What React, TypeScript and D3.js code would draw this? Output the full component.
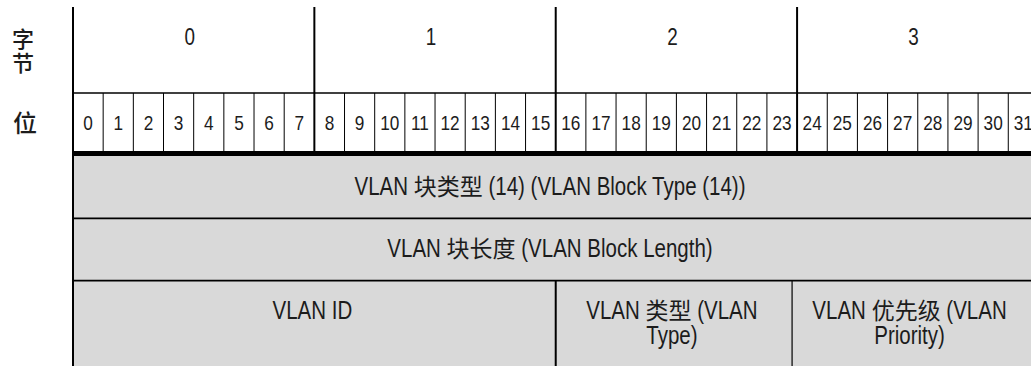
import { useRef, useEffect } from "react";
import * as d3 from "d3";

// header labels
const byteLabels = ["0", "1", "2", "3"];
const bitLabels = [
  "0", "1", "2", "3", "4", "5", "6", "7",
  "8", "9", "10", "11", "12", "13", "14", "15",
  "16", "17", "18", "19", "20", "21", "22", "23",
  "24", "25", "26", "27", "28", "29", "30", "31",
];
const rowTitles = ["字节", "位"];

// fields of the block
const fieldText = [
  ["VLAN 块类型 (14) (VLAN Block Type (14))"],
  ["VLAN 块长度 (VLAN Block Length)"],
  ["VLAN ID"],
  ["VLAN 类型 (VLAN", "Type)"],
  ["VLAN 优先级 (VLAN", "Priority)"],
];
const fieldRow = [0, 1, 2, 2, 2];
const fieldStart = [0, 0, 0, 16, 24];
const fieldEnd = [32, 32, 16, 24, 32];

const W = 1031;
const H = 366;
const LATIN = "'Liberation Sans', Arial, sans-serif";
const CJK = "'Noto Sans CJK SC', sans-serif";
const INK = "#1c1c1c";
const NARROW = 0.82;

// draw a mixed latin / chinese string centred on cx, latin runs squeezed
function drawLabel(parent, str, cx, baseline, size) {
  const runs = str.match(/[\u4e00-\u9fff]+|[^\u4e00-\u9fff]+/g) || [];
  const g = parent.append("g");
  const items = runs.map((r) => {
    const cjk = /[\u4e00-\u9fff]/.test(r);
    const t = g
      .append("text")
      .attr("font-family", cjk ? CJK : LATIN)
      .attr("font-size", cjk ? size * 0.92 : size)
      .attr("fill", INK)
      .style("white-space", "pre")
      .text(r);
    const w = t.node().getComputedTextLength() * (cjk ? 1 : NARROW);
    return { t, cjk, w };
  });
  const total = d3.sum(items, (d) => d.w);
  let pos = cx - total / 2;
  items.forEach((d) => {
    d.t.attr(
      "transform",
      `translate(${pos},${baseline})` + (d.cjk ? "" : ` scale(${NARROW},1)`)
    );
    pos += d.w;
  });
}

export default function App() {
  const ref = useRef(null);
  const x = d3.scaleLinear().domain([0, 32]).range([73, 73 + 32 * 30.17]);
  const y = d3.scaleLinear().domain([0, 3]).range([156, 156 + 3 * 62.3]);
  const headTop = 7;
  const bitTop = 93;

  const divider = (i) => (fieldStart[i] === 24 ? x(24) - 5 : x(fieldStart[i]));

  useEffect(() => {
    const g = d3.select(ref.current);
    g.selectAll("*").remove();

    byteLabels.forEach((b, i) => {
      drawLabel(g, b, (x(i * 8) + Math.min(x(i * 8 + 8), W + 7)) / 2 - 4, 45, 23);
    });
    bitLabels.forEach((b, i) => {
      drawLabel(g, b, (x(i) + x(i + 1)) / 2, 130, 21);
    });
    fieldText.forEach((lines, i) => {
      const x0 = divider(i);
      const x1 = fieldEnd[i] === 24 ? divider(4) : Math.min(x(fieldEnd[i]), W);
      const cx = (x0 + x1) / 2 - 2;
      const r = fieldRow[i];
      const base = r < 2 ? (y(r) + y(r + 1)) / 2 + 8 : y(2) + 38.5;
      lines.forEach((l, j) => drawLabel(g, l, cx, base + j * 25, 25));
    });
  }, []);

  return (
    <svg
      width={W}
      height={H}
      style={{ position: "absolute", left: 0, top: 0, background: "#fff" }}
    >
      {/* field rows */}
      {fieldText.map((_, i) => {
        const x0 = divider(i);
        const y0 = y(fieldRow[i]);
        const y1 = fieldRow[i] === 2 ? H + 10 : y(fieldRow[i] + 1);
        return (
          <rect
            key={i}
            x={x0}
            y={y0}
            width={x(fieldEnd[i]) - x0}
            height={y1 - y0}
            fill="#d9d9d9"
          />
        );
      })}

      {/* row separators */}
      {[1, 2].map((r) => (
        <line key={r} x1={x(0)} x2={W} y1={y(r)} y2={y(r)} stroke="#000" strokeWidth={1.7} />
      ))}
      <line x1={divider(3)} x2={divider(3)} y1={y(2)} y2={H} stroke="#000" strokeWidth={2} />
      <line x1={divider(4)} x2={divider(4)} y1={y(2)} y2={H} stroke="#000" strokeWidth={1.2} />

      {/* header grid */}
      <line x1={x(0)} x2={W} y1={bitTop} y2={bitTop} stroke="#000" strokeWidth={1.7} />
      <rect x={x(0)} y={151} width={W - x(0)} height={5} fill="#000" />
      {byteLabels.map((b, i) =>
        i === 0 ? null : (
          <line key={b} x1={x(i * 8)} x2={x(i * 8)} y1={headTop} y2={151} stroke="#000" strokeWidth={2} />
        )
      )}
      {bitLabels.map((b, i) =>
        i % 8 === 0 ? null : (
          <line key={b} x1={x(i)} x2={x(i)} y1={bitTop} y2={151} stroke="#000" strokeWidth={1} />
        )
      )}
      <line x1={x(0)} x2={x(0)} y1={headTop} y2={H} stroke="#000" strokeWidth={2} />

      <g ref={ref} />

      {/* row titles */}
      <text x={23} y={47} textAnchor="middle" fontFamily={CJK} fontSize={22} fontWeight={500} fill={INK}>
        {rowTitles[0].split("").map((c, j) => (
          <tspan key={j} x={23} dy={j === 0 ? 0 : 24}>
            {c}
          </tspan>
        ))}
      </text>
      <text x={25} y={132} textAnchor="middle" fontFamily={CJK} fontSize={24} fontWeight={500} fill={INK}>
        {rowTitles[1]}
      </text>
    </svg>
  );
}
